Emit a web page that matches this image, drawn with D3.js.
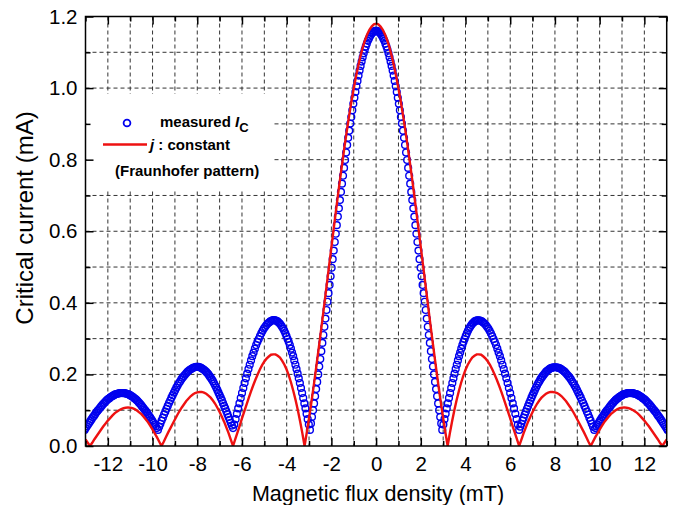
<!DOCTYPE html>
<html><head><meta charset="utf-8">
<script src="https://cdn.jsdelivr.net/npm/d3@7"></script>
<style>body{margin:0;background:#fff} svg text{font-family:"Liberation Sans",Arial,sans-serif}</style>
</head><body><svg id="c" width="679" height="505"></svg>
<script>
// ---------- data ----------
const xMajorTicks = [-12,-10,-8,-6,-4,-2,0,2,4,6,8,10,12];
const xMinorTicks = [-13,-11,-9,-7,-5,-3,-1,1,3,5,7,9,11,13];
const yMajorTicks = [0,0.2,0.4,0.6,0.8,1.0,1.2];
const yMinorTicks = [0.1,0.3,0.5,0.7,0.9,1.1];
const xGrid = [-12,-11,-10,-9,-8,-7,-6,-5,-4,-3,-2,-1,0,1,2,3,4,5,6,7,8,9,10,11,12];
const yGrid = [0.1,0.2,0.3,0.4,0.5,0.6,0.7,0.8,0.9,1.0,1.1];

// Fraunhofer pattern (j constant), red line
const redField = [
-13,-12.9,-12.8,-12.7,-12.6,-12.5,-12.4,-12.3,-12.2,-12.1,
-12,-11.9,-11.8,-11.7,-11.6,-11.5,-11.4,-11.3,-11.2,-11.1,
-11,-10.9,-10.8,-10.7,-10.6,-10.5,-10.4,-10.3,-10.2,-10.1,
-10,-9.9,-9.8,-9.7,-9.6,-9.5,-9.4,-9.3,-9.2,-9.1,
-9,-8.9,-8.8,-8.7,-8.6,-8.5,-8.4,-8.3,-8.2,-8.1,
-8,-7.9,-7.8,-7.7,-7.6,-7.5,-7.4,-7.3,-7.2,-7.1,
-7,-6.9,-6.8,-6.7,-6.6,-6.5,-6.4,-6.3,-6.2,-6.1,
-6,-5.9,-5.8,-5.7,-5.6,-5.5,-5.4,-5.3,-5.2,-5.1,
-5,-4.9,-4.8,-4.7,-4.6,-4.5,-4.4,-4.3,-4.2,-4.1,
-4,-3.9,-3.8,-3.7,-3.6,-3.5,-3.4,-3.3,-3.2,-3.1,
-3,-2.9,-2.8,-2.7,-2.6,-2.5,-2.4,-2.3,-2.2,-2.1,
-2,-1.9,-1.8,-1.7,-1.6,-1.5,-1.4,-1.3,-1.2,-1.1,
-1,-0.9,-0.8,-0.7,-0.6,-0.5,-0.4,-0.3,-0.2,-0.1,
0,0.1,0.2,0.3,0.4,0.5,0.6,0.7,0.8,0.9,
1,1.1,1.2,1.3,1.4,1.5,1.6,1.7,1.8,1.9,
2,2.1,2.2,2.3,2.4,2.5,2.6,2.7,2.8,2.9,
3,3.1,3.2,3.3,3.4,3.5,3.6,3.7,3.8,3.9,
4,4.1,4.2,4.3,4.4,4.5,4.6,4.7,4.8,4.9,
5,5.1,5.2,5.3,5.4,5.5,5.6,5.7,5.8,5.9,
6,6.1,6.2,6.3,6.4,6.5,6.6,6.7,6.8,6.9,
7,7.1,7.2,7.3,7.4,7.5,7.6,7.7,7.8,7.9,
8,8.1,8.2,8.3,8.4,8.5,8.6,8.7,8.8,8.9,
9,9.1,9.2,9.3,9.4,9.5,9.6,9.7,9.8,9.9,
10,10.1,10.2,10.3,10.4,10.5,10.6,10.7,10.8,10.9,
11,11.1,11.2,11.3,11.4,11.5,11.6,11.7,11.8,11.9,
12,12.1,12.2,12.3,12.4,12.5,12.6,12.7,12.8,12.9,
13];
const redIc = [
.018,.009,0,.009,.019,.028,.037,.046,.055,.063,
.071,.078,.085,.091,.096,.100,.103,.106,.107,.108,
.107,.106,.103,.099,.094,.089,.082,.074,.066,.056,
.046,.035,.024,.012,0,.012,.025,.038,.050,.062,
.074,.086,.097,.107,.116,.125,.132,.139,.144,.148,
.150,.151,.151,.149,.146,.141,.135,.127,.118,.107,
.095,.082,.068,.052,.036,.018,0,.019,.038,.057,
.077,.096,.115,.134,.152,.169,.185,.200,.214,.226,
.236,.244,.250,.255,.256,.256,.252,.247,.238,.227,
.213,.196,.176,.153,.128,.100,.069,.036,0,.038,
.078,.120,.164,.210,.257,.305,.354,.404,.454,.505,
.555,.605,.655,.704,.751,.797,.842,.885,.925,.964,
.999,1.032,1.062,1.089,1.113,1.133,1.150,1.163,1.172,1.178,
1.180,1.178,1.172,1.163,1.150,1.133,1.113,1.089,1.062,1.032,
.999,.964,.925,.885,.842,.797,.751,.704,.655,.605,
.555,.505,.454,.404,.354,.305,.257,.210,.164,.120,
.078,.038,0,.036,.069,.100,.128,.153,.176,.196,
.213,.227,.238,.247,.252,.256,.256,.255,.250,.244,
.236,.226,.214,.200,.185,.169,.152,.134,.115,.096,
.077,.057,.038,.019,0,.018,.036,.052,.068,.082,
.095,.107,.118,.127,.135,.141,.146,.149,.151,.151,
.150,.148,.144,.139,.132,.125,.116,.107,.097,.086,
.074,.062,.050,.038,.025,.012,0,.012,.024,.035,
.046,.056,.066,.074,.082,.089,.094,.099,.103,.106,
.107,.108,.107,.106,.103,.100,.096,.091,.085,.078,
.071,.063,.055,.046,.037,.028,.019,.009,0,.009,
.018];

// measured Ic, positive field
const blueFieldPos = [
0,0.046,0.093,0.139,0.185,0.231,0.278,0.324,0.37,0.416,0.463,0.509,0.555,0.601,0.648,0.694,
0.74,0.786,0.833,0.879,0.925,0.971,1.018,1.064,1.11,1.156,1.203,1.249,1.295,1.341,1.388,1.434,
1.48,1.526,1.573,1.619,1.665,1.711,1.758,1.804,1.85,1.896,1.943,1.989,2.035,2.081,2.128,2.174,
2.22,2.266,2.313,2.359,2.405,2.451,2.498,2.544,2.59,2.636,2.683,2.729,2.775,2.821,2.868,2.914,2.96,
3.01,3.06,3.11,3.16,3.21,3.26,3.31,3.36,3.41,3.46,3.51,3.56,3.61,3.66,3.71,3.76,
3.81,3.86,3.91,3.96,4.01,4.06,4.11,4.16,4.21,4.26,4.31,4.36,4.41,4.46,4.51,4.56,
4.618,4.675,4.733,4.79,4.848,4.905,4.963,5.02,5.078,5.135,5.193,5.25,5.308,5.365,5.423,5.48,
5.538,5.595,5.653,5.71,5.768,5.825,5.883,5.94,5.998,6.055,6.113,6.17,6.228,6.285,6.343,6.4,
6.45,6.5,6.55,6.6,6.65,6.7,6.75,6.8,6.85,6.9,6.95,7.0,7.05,7.1,7.15,7.2,
7.25,7.3,7.35,7.4,7.45,7.5,7.55,7.6,7.65,7.7,7.75,7.8,7.85,7.9,7.95,8.0,
8.055,8.11,8.165,8.22,8.275,8.33,8.385,8.44,8.495,8.55,8.605,8.66,8.715,8.77,8.825,8.88,
8.935,8.99,9.045,9.1,9.155,9.21,9.265,9.32,9.375,9.43,9.485,9.54,9.595,9.65,9.705,9.76,
9.81,9.86,9.91,9.96,10.01,10.06,10.11,10.16,10.21,10.26,10.31,10.36,10.41,10.46,10.51,10.56,
10.61,10.66,10.71,10.76,10.81,10.86,10.91,10.96,11.01,11.06,11.11,11.16,11.21,11.26,11.31,11.36,
11.413,11.465,11.518,11.57,11.623,11.675,11.728,11.78,11.833,11.885,11.938,11.99,12.043,12.095,12.148,12.2,
12.253,12.305,12.358,12.41,12.463,12.515,12.568,12.62,12.673,12.725,12.778,12.83,12.883,12.935,12.988,13.04];
const blueIcPos = [
1.160,1.160,1.158,1.156,1.153,1.149,1.144,1.138,1.132,1.124,1.116,1.107,1.097,1.086,1.074,1.062,
1.049,1.035,1.020,1.005,0.989,0.973,0.956,0.938,0.919,0.901,0.881,0.861,0.841,0.820,0.799,0.777,
0.755,0.733,0.710,0.687,0.664,0.641,0.617,0.593,0.570,0.546,0.522,0.498,0.474,0.450,0.427,0.403,
0.380,0.356,0.333,0.310,0.288,0.265,0.243,0.222,0.200,0.179,0.159,0.139,0.119,0.100,0.081,0.063,0.045,
.060,.075,.090,.105,.119,.134,.148,.162,.176,.189,.202,.215,.227,.239,.251,.261,
.272,.282,.291,.299,.307,.315,.322,.328,.333,.338,.342,.345,.348,.350,.351,.351,
.351,.350,.348,.345,.342,.338,.333,.328,.322,.315,.307,.299,.291,.282,.272,.261,
.251,.239,.227,.215,.202,.189,.176,.162,.148,.134,.119,.105,.090,.075,.060,.045,
.054,.062,.071,.079,.088,.096,.104,.112,.120,.127,.135,.142,.149,.156,.163,.169,
.175,.180,.186,.191,.195,.199,.203,.207,.210,.212,.215,.217,.218,.219,.220,.220,
.220,.219,.218,.217,.215,.212,.210,.207,.203,.199,.195,.191,.186,.180,.175,.169,
.163,.156,.149,.142,.135,.127,.120,.112,.104,.096,.088,.079,.071,.062,.054,.045,
.050,.055,.060,.065,.070,.075,.080,.084,.089,.094,.098,.102,.106,.110,.114,.118,
.121,.125,.128,.131,.133,.136,.138,.140,.142,.144,.145,.146,.147,.148,.148,.148,
.148,.148,.147,.146,.145,.144,.142,.140,.138,.136,.133,.131,.128,.125,.121,.118,
.114,.110,.106,.102,.098,.094,.089,.084,.080,.075,.070,.065,.060,.055,.050,.045];

// measured Ic, negative field
const blueFieldNeg = [
-0.046,-0.093,-0.139,-0.185,-0.231,-0.278,-0.324,-0.37,-0.416,-0.463,-0.509,-0.555,-0.601,-0.648,-0.694,
-0.74,-0.786,-0.833,-0.879,-0.925,-0.971,-1.018,-1.064,-1.11,-1.156,-1.203,-1.249,-1.295,-1.341,-1.388,-1.434,
-1.48,-1.526,-1.573,-1.619,-1.665,-1.711,-1.758,-1.804,-1.85,-1.896,-1.943,-1.989,-2.035,-2.081,-2.128,-2.174,
-2.22,-2.266,-2.313,-2.359,-2.405,-2.451,-2.498,-2.544,-2.59,-2.636,-2.683,-2.729,-2.775,-2.821,-2.868,-2.914,-2.96,
-3.01,-3.06,-3.11,-3.16,-3.21,-3.26,-3.31,-3.36,-3.41,-3.46,-3.51,-3.56,-3.61,-3.66,-3.71,-3.76,
-3.81,-3.86,-3.91,-3.96,-4.01,-4.06,-4.11,-4.16,-4.21,-4.26,-4.31,-4.36,-4.41,-4.46,-4.51,-4.56,
-4.618,-4.675,-4.733,-4.79,-4.848,-4.905,-4.963,-5.02,-5.078,-5.135,-5.193,-5.25,-5.308,-5.365,-5.423,-5.48,
-5.538,-5.595,-5.653,-5.71,-5.768,-5.825,-5.883,-5.94,-5.998,-6.055,-6.113,-6.17,-6.228,-6.285,-6.343,-6.4,
-6.45,-6.5,-6.55,-6.6,-6.65,-6.7,-6.75,-6.8,-6.85,-6.9,-6.95,-7.0,-7.05,-7.1,-7.15,-7.2,
-7.25,-7.3,-7.35,-7.4,-7.45,-7.5,-7.55,-7.6,-7.65,-7.7,-7.75,-7.8,-7.85,-7.9,-7.95,-8.0,
-8.055,-8.11,-8.165,-8.22,-8.275,-8.33,-8.385,-8.44,-8.495,-8.55,-8.605,-8.66,-8.715,-8.77,-8.825,-8.88,
-8.935,-8.99,-9.045,-9.1,-9.155,-9.21,-9.265,-9.32,-9.375,-9.43,-9.485,-9.54,-9.595,-9.65,-9.705,-9.76,
-9.81,-9.86,-9.91,-9.96,-10.01,-10.06,-10.11,-10.16,-10.21,-10.26,-10.31,-10.36,-10.41,-10.46,-10.51,-10.56,
-10.61,-10.66,-10.71,-10.76,-10.81,-10.86,-10.91,-10.96,-11.01,-11.06,-11.11,-11.16,-11.21,-11.26,-11.31,-11.36,
-11.413,-11.465,-11.518,-11.57,-11.623,-11.675,-11.728,-11.78,-11.833,-11.885,-11.938,-11.99,-12.043,-12.095,-12.148,-12.2,
-12.253,-12.305,-12.358,-12.41,-12.463,-12.515,-12.568,-12.62,-12.673,-12.725,-12.778,-12.83,-12.883,-12.935,-12.988,-13.04];
const blueIcNeg = [
1.160,1.158,1.156,1.153,1.149,1.144,1.138,1.132,1.124,1.116,1.107,1.097,1.086,1.074,1.062,
1.049,1.035,1.020,1.005,0.989,0.973,0.956,0.938,0.919,0.901,0.881,0.861,0.841,0.820,0.799,0.777,
0.755,0.733,0.710,0.687,0.664,0.641,0.617,0.593,0.570,0.546,0.522,0.498,0.474,0.450,0.427,0.403,
0.380,0.356,0.333,0.310,0.288,0.265,0.243,0.222,0.200,0.179,0.159,0.139,0.119,0.100,0.081,0.063,0.045,
.060,.075,.090,.105,.119,.134,.148,.162,.176,.189,.202,.215,.227,.239,.251,.261,
.272,.282,.291,.299,.307,.315,.322,.328,.333,.338,.342,.345,.348,.350,.351,.352,
.352,.350,.348,.345,.342,.338,.333,.328,.322,.315,.307,.299,.291,.282,.272,.261,
.251,.239,.227,.215,.202,.189,.176,.162,.148,.134,.119,.105,.090,.075,.060,.050,
.057,.065,.073,.081,.089,.097,.105,.112,.120,.128,.135,.142,.149,.156,.163,.169,
.175,.181,.186,.191,.195,.200,.204,.207,.210,.213,.215,.217,.219,.220,.221,.221,
.221,.220,.219,.217,.215,.213,.210,.207,.203,.199,.195,.191,.186,.180,.175,.169,
.163,.156,.149,.142,.135,.127,.120,.112,.104,.096,.088,.079,.071,.062,.054,.045,
.050,.055,.060,.065,.070,.075,.080,.084,.089,.094,.098,.102,.106,.110,.114,.118,
.121,.125,.128,.131,.133,.136,.138,.140,.142,.144,.145,.146,.147,.148,.148,.148,
.148,.148,.147,.146,.145,.144,.142,.140,.138,.136,.133,.131,.128,.125,.121,.118,
.114,.110,.106,.102,.098,.094,.089,.084,.080,.075,.070,.065,.060,.055,.050,.045];

// ---------- drawing ----------
const W = 679, H = 505;
const P = {l: 85.5, r: 666.7, t: 16.5, b: 446};
const FONT = '"Liberation Sans", Arial, sans-serif';
const BLUE = "#0000ee", RED = "#ee1111";

const x = d3.scaleLinear().domain([-13, 13]).range([P.l, P.r]);
const y = d3.scaleLinear().domain([0, 1.2]).range([P.b, P.t]);

const svg = d3.select("#c");
svg.append("rect").attr("width", W).attr("height", H).attr("fill", "#fff");
svg.append("defs").append("clipPath").attr("id", "clip").append("rect")
  .attr("x", P.l).attr("y", P.t).attr("width", P.r - P.l).attr("height", P.b - P.t);

// grid
const grid = svg.append("g").attr("stroke", "#333").attr("stroke-width", 1)
  .attr("stroke-dasharray", "4,3");
grid.selectAll("line.v").data(xGrid).join("line").attr("class", "v")
  .attr("x1", d => x(d)).attr("x2", d => x(d)).attr("y1", P.t).attr("y2", P.b);
grid.selectAll("line.h").data(yGrid).join("line").attr("class", "h")
  .attr("x1", P.l).attr("x2", P.r).attr("y1", d => y(d)).attr("y2", d => y(d));

// legend background
svg.append("rect").attr("x", P.l + 1).attr("y", 94).attr("width", 186).attr("height", 96)
  .attr("fill", "#fff");

// measured points
const pts = blueFieldPos.map((f, i) => [f, blueIcPos[i]])
  .concat(blueFieldNeg.map((f, i) => [f, blueIcNeg[i]]));
svg.append("g").attr("clip-path", "url(#clip)")
  .selectAll("circle").data(pts).join("circle")
  .attr("cx", d => x(d[0])).attr("cy", d => y(d[1])).attr("r", 3.4)
  .attr("fill", "none").attr("stroke", BLUE).attr("stroke-width", 1.4);

// Fraunhofer line
svg.append("path").attr("clip-path", "url(#clip)")
  .datum(redField.map((f, i) => [f, redIc[i]]))
  .attr("fill", "none").attr("stroke", RED).attr("stroke-width", 2.4)
  .attr("stroke-linejoin", "miter")
  .attr("d", d3.line().x(d => x(d[0])).y(d => y(d[1])));

// axes
function styleAxis(g) {
  g.select(".domain").remove();
  g.selectAll("line").attr("stroke", "#000").attr("stroke-width", 1.5);
  g.attr("font-size", 20.5).attr("font-family", FONT);
  g.selectAll("text").attr("fill", "#000");
}
svg.append("g").attr("transform", `translate(0,${P.b})`)
  .call(d3.axisBottom(x).tickValues(xMajorTicks).tickSize(-8).tickPadding(10).tickFormat(d => String(d)))
  .call(styleAxis);
svg.append("g").attr("transform", `translate(0,${P.b})`)
  .call(d3.axisBottom(x).tickValues(xMinorTicks).tickSize(-5).tickFormat(""))
  .call(styleAxis);
svg.append("g").attr("transform", `translate(0,${P.t})`)
  .call(d3.axisTop(x).tickValues(xMajorTicks).tickSize(-8).tickFormat(""))
  .call(styleAxis);
svg.append("g").attr("transform", `translate(0,${P.t})`)
  .call(d3.axisTop(x).tickValues(xMinorTicks).tickSize(-5).tickFormat(""))
  .call(styleAxis);
svg.append("g").attr("transform", `translate(${P.l},0)`)
  .call(d3.axisLeft(y).tickValues(yMajorTicks).tickSize(-8).tickPadding(8).tickFormat(d3.format(".1f")))
  .call(styleAxis);
svg.append("g").attr("transform", `translate(${P.l},0)`)
  .call(d3.axisLeft(y).tickValues(yMinorTicks).tickSize(-5).tickFormat(""))
  .call(styleAxis);
svg.append("g").attr("transform", `translate(${P.r},0)`)
  .call(d3.axisRight(y).tickValues(yMajorTicks).tickSize(-8).tickFormat(""))
  .call(styleAxis);
svg.append("g").attr("transform", `translate(${P.r},0)`)
  .call(d3.axisRight(y).tickValues(yMinorTicks).tickSize(-5).tickFormat(""))
  .call(styleAxis);

// frame
svg.append("rect").attr("x", P.l).attr("y", P.t).attr("width", P.r - P.l).attr("height", P.b - P.t)
  .attr("fill", "none").attr("stroke", "#000").attr("stroke-width", 1.5);

// axis titles
svg.append("text").attr("x", 378).attr("y", 501).attr("text-anchor", "middle")
  .attr("font-size", 21.5).attr("font-family", FONT).text("Magnetic flux density (mT)");
svg.append("text").attr("transform", "translate(33,218) rotate(-90)").attr("text-anchor", "middle")
  .attr("font-size", 24).attr("font-family", FONT).text("Critical current (mA)");

// legend
const lg = svg.append("g").attr("font-family", FONT).attr("font-weight", "bold").attr("font-size", 15);
lg.append("circle").attr("cx", 127).attr("cy", 123).attr("r", 3.4)
  .attr("fill", "none").attr("stroke", BLUE).attr("stroke-width", 1.8);
const t1 = lg.append("text").attr("x", 160).attr("y", 127);
t1.append("tspan").text("measured ");
t1.append("tspan").attr("font-style", "italic").text("I");
t1.append("tspan").attr("font-size", 13).attr("dy", 5).text("C");
lg.append("line").attr("x1", 103).attr("x2", 147).attr("y1", 144.5).attr("y2", 144.5)
  .attr("stroke", RED).attr("stroke-width", 2.4);
const t2 = lg.append("text").attr("x", 150).attr("y", 150);
t2.append("tspan").attr("font-style", "italic").text("j");
t2.append("tspan").text(" : constant");
lg.append("text").attr("x", 115).attr("y", 176).text("(Fraunhofer pattern)");
</script>
</body></html>
